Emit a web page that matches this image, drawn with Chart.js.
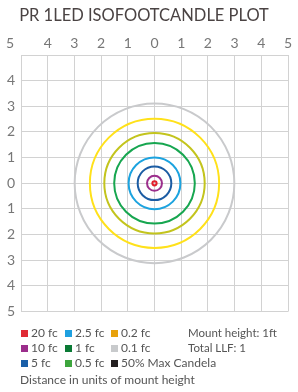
<!DOCTYPE html>
<html>
<head>
<meta charset="utf-8">
<script src="https://cdn.jsdelivr.net/npm/chart.js@4/dist/chart.umd.min.js"></script>
<style>
    body { margin: 0; background: #fff; font-family: Lato, "Open Sans", sans-serif; color: #555; }
    .wrap { position: relative; width: 298px; height: 392px; }
    .chart-box { position: absolute; left: 0; top: 0; width: 298px; height: 326px; }
    .legend {
        position: absolute; left: 21px; top: 325px;
        display: grid; grid-template-rows: repeat(3, 15px); grid-auto-flow: column;
        grid-template-columns: 44px 46px 80px;
        font-size: 12px; line-height: 15px; white-space: nowrap;
    }
    .legend span.sw { display: inline-block; width: 7px; height: 7px; margin-right: 3px; vertical-align: 0px; }
    .notes { position: absolute; left: 188px; top: 325px; font-size: 11.5px; line-height: 15px; }
    .footer { position: absolute; left: 20px; top: 372px; font-size: 12px; line-height: 15px; }
</style>
</head>
<body>
<div class="wrap">
    <div class="chart-box"><canvas id="myChart" width="298" height="326"></canvas></div>
    <div class="legend" id="legend"></div>
    <div class="notes" id="notes"></div>
    <div class="footer">Distance in units of mount height</div>
</div>
<script>
// isofootcandle levels and the radius of each ring, in units of mount height
const fcLevels = ["20 fc", "10 fc", "5 fc", "2.5 fc", "1 fc", "0.5 fc", "0.2 fc", "0.1 fc"];
const ringRadii = [0.08, 0.28, 0.63, 0.97, 1.51, 1.88, 2.42, 2.99];
const ringColors = ["#e2202c", "#9c2f8c", "#1b5ca3", "#1ca3df", "#17a650", "#c3c41d", "#ffe11a", "#c9cacc"];

const legendLabels = ["20 fc", "10 fc", "5 fc", "2.5 fc", "1 fc", "0.5 fc", "0.2 fc", "0.1 fc", "50% Max Candela"];
const legendColors = ["#e02b35", "#9b2d8b", "#1a5fa8", "#1ea0e0", "#0a7a35", "#3da53d", "#e8a20c", "#c8cacc", "#231f20"];
const notes = ["Mount height: 1ft", "Total LLF: 1"];

const titleText = "PR 1LED ISOFOOTCANDLE PLOT";
const axisMin = -5, axisMax = 5;

const tickFont = { family: "Lato", size: 14 };
const tickColor = "#777";
const gridColor = "#d2d2d2";

// size the title so it spans about 250px like the original
const measure = document.createElement("canvas").getContext("2d");
measure.font = "100px Lato";
const titleSize = Math.round(100 * 250 / measure.measureText(titleText).width * 2) / 2;

const ringRadius = (i) => (ctx) => {
    const s = ctx.chart.scales.x;
    return Math.abs(s.getPixelForValue(ringRadii[i]) - s.getPixelForValue(0));
};

const datasets = fcLevels.map((label, i) => ({
    label,
    data: [{ x: 0, y: 0 }],
    pointStyle: "circle",
    pointRadius: ringRadius(i),
    backgroundColor: "rgba(0,0,0,0)",
    borderColor: ringColors[i],
    borderWidth: 2
}));

// the shared "5" in the top-left corner, on the row of the x labels
const cornerLabel = {
    id: "cornerLabel",
    afterDraw(chart) {
        const { ctx, scales } = chart;
        const item = scales.x.getLabelItems()[1];
        ctx.save();
        ctx.font = `${tickFont.size}px ${tickFont.family}`;
        ctx.fillStyle = tickColor;
        ctx.textAlign = "center";
        ctx.textBaseline = item.options.textBaseline;
        ctx.fillText(String(axisMax), 10, item.options.translation[1] + item.textOffset);
        ctx.restore();
    }
};

new Chart(document.querySelector("#myChart"), {
    type: "scatter",
    data: { datasets },
    options: {
        responsive: false,
        animation: false,
        events: [],
        layout: { padding: { right: 10, bottom: 5, left: 0 } },
        plugins: {
            legend: { display: false },
            tooltip: { enabled: false },
            title: {
                display: true,
                text: titleText,
                color: "#4a4343",
                font: { family: "Lato", size: titleSize, weight: "normal", lineHeight: 21 / titleSize },
                padding: { top: 5, bottom: 7 }
            }
        },
        scales: {
            x: {
                position: "top",
                min: axisMin, max: axisMax,
                ticks: {
                    stepSize: 1,
                    color: tickColor,
                    font: tickFont,
                    padding: 3,
                    maxRotation: 0,
                    callback: (v) => (v === axisMin ? "" : String(Math.abs(v)))
                },
                grid: { color: gridColor, drawTicks: false },
                border: { color: gridColor },
                afterFit: (s) => { s.height = 22; }
            },
            y: {
                min: axisMin, max: axisMax,
                ticks: {
                    stepSize: 1,
                    color: tickColor,
                    font: tickFont,
                    padding: 6,
                    callback: (v) => (v === axisMax ? "" : String(Math.abs(v)))
                },
                grid: { color: gridColor, drawTicks: false },
                border: { color: gridColor },
                afterFit: (s) => { s.width = 21; }
            }
        }
    },
    plugins: [cornerLabel]
});

document.querySelector("#legend").innerHTML = legendLabels
    .map((label, i) => `<div><span class="sw" style="background:${legendColors[i]}"></span>${label}</div>`)
    .join("");
document.querySelector("#notes").innerHTML = notes.map((n) => `<div>${n}</div>`).join("");
</script>
</body>
</html>
